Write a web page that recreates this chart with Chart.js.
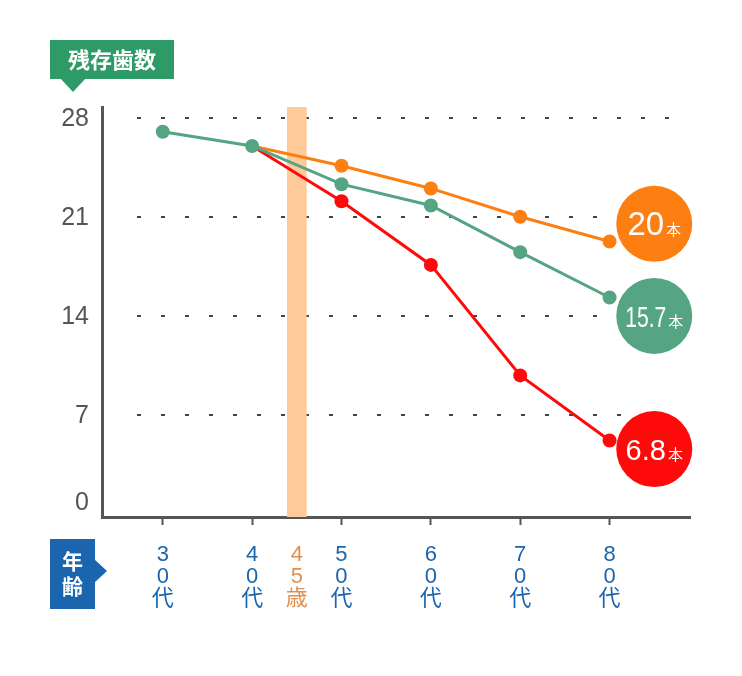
<!DOCTYPE html>
<html>
<head>
<meta charset="utf-8">
<script src="https://cdn.jsdelivr.net/npm/chart.js@4"></script>
<style>
  body { margin: 0; background: #fff; }
  canvas { display: block; }
</style>
</head>
<body>
<canvas id="chart" width="742" height="676"></canvas>
<script>
// 年代ごとの残存歯数
const ages = [30, 40, 50, 60, 70, 80];
const greenTeeth = [27.0, 26.0, 23.3, 21.8, 18.5, 15.3];
const orangeTeeth = [null, 26.0, 24.6, 23.0, 21.0, 19.25];
const redTeeth = [null, 26.0, 22.1, 17.6, 9.8, 5.2];
const markAge = 45;

const xTicks = [30, 40, 45, 50, 60, 70, 80];
const xTickText = ['30代', '40代', '45歳', '50代', '60代', '70代', '80代'];
const yTicks = [0, 7, 14, 21, 28];
const bubbleText = ['20', '15.7', '6.8'];

const GREEN = '#55a482';
const ORANGE = '#fd7f12';
const RED = '#ff0a0a';
const BLUE = '#1b64ae';
const LATIN = "'Liberation Sans', 'Noto Sans CJK JP', sans-serif";
const CJK = "'Noto Sans CJK JP', sans-serif";
const Y_MIN = -0.2, Y_MAX = 28.75;

const toPts = arr => ages.map((a, i) => ({ x: a, y: arr[i] })).filter(p => p.y !== null);

const lineSet = (label, arr, color, order) => ({
  type: 'line',
  label: label,
  data: toPts(arr),
  borderColor: color,
  backgroundColor: color,
  borderWidth: 3,
  pointRadius: ctx => (order > 1 && ctx.dataIndex === 0) ? 0 : 7,
  pointBorderWidth: 0,
  pointHoverRadius: 7,
  order: order
});

const decor = {
  id: 'decor',
  beforeDatasetsDraw(chart) {
    const { ctx, chartArea, scales: { y } } = chart;
    ctx.save();
    ctx.strokeStyle = '#444';
    ctx.lineWidth = 2;
    ctx.setLineDash([4, 20]);
    yTicks.filter(v => v > 0).forEach(v => {
      const py = Math.round(y.getPixelForValue(v));
      ctx.beginPath();
      ctx.moveTo(chartArea.left + 35, py);
      ctx.lineTo(chartArea.right - 18, py);
      ctx.stroke();
    });
    ctx.restore();
  },
  afterDraw(chart) {
    const { ctx, chartArea, scales: { x, y } } = chart;
    ctx.save();
    // y tick labels
    ctx.fillStyle = '#555';
    ctx.font = '25px ' + LATIN;
    ctx.textAlign = 'right';
    ctx.textBaseline = 'middle';
    yTicks.forEach(v => {
      let py = y.getPixelForValue(v);
      py = Math.min(py, chartArea.bottom - 15);
      ctx.fillText(String(v), 89, py + 1);
    });

    // 残存歯数 box
    ctx.fillStyle = '#2e9a68';
    ctx.fillRect(50, 40, 124, 39);
    ctx.beginPath();
    ctx.moveTo(60, 78); ctx.lineTo(86, 78); ctx.lineTo(73, 92); ctx.closePath();
    ctx.fill();
    ctx.fillStyle = '#fff';
    ctx.font = 'bold 22px ' + CJK;
    ctx.textAlign = 'center';
    ctx.fillText('残存歯数', 112, 60);

    // 年齢 box
    ctx.fillStyle = BLUE;
    ctx.fillRect(50, 539, 45, 70);
    ctx.beginPath();
    ctx.moveTo(94, 559); ctx.lineTo(107, 571); ctx.lineTo(94, 583); ctx.closePath();
    ctx.fill();
    ctx.fillStyle = '#fff';
    ctx.font = 'bold 21px ' + CJK;
    ctx.fillText('年', 72.5, 561);
    ctx.fillText('齢', 72.5, 586);

    // end bubbles
    const cx = x.getPixelForValue(85);
    const bubbles = [
      { v: 20.5, c: ORANGE, size: 33 },
      { v: 14.0, c: GREEN, size: 30, maxW: 41 },
      { v: 4.6, c: RED, size: 29 }
    ];
    bubbles.forEach((b, i) => {
      const cy = y.getPixelForValue(b.v);
      ctx.fillStyle = b.c;
      ctx.beginPath();
      ctx.arc(cx, cy, 38, 0, Math.PI * 2);
      ctx.fill();
      ctx.fillStyle = '#fff';
      ctx.textAlign = 'left';
      ctx.textBaseline = 'alphabetic';
      ctx.font = b.size + 'px ' + LATIN;
      let w = ctx.measureText(bubbleText[i]).width;
      if (b.maxW) w = Math.min(w, b.maxW);
      ctx.font = '15px ' + CJK;
      const wu = ctx.measureText('本').width;
      const left = cx - (w + 2 + wu) / 2;
      ctx.font = b.size + 'px ' + LATIN;
      if (b.maxW) ctx.fillText(bubbleText[i], left, cy + 11, b.maxW);
      else ctx.fillText(bubbleText[i], left, cy + 11);
      ctx.font = '15px ' + CJK;
      ctx.fillText('本', left + w + 2, cy + 11);
    });
    ctx.restore();
  }
};

const chart = new Chart(document.querySelector('#chart').getContext('2d'), {
  data: {
    datasets: [
      lineSet('green', greenTeeth, GREEN, 1),
      lineSet('orange', orangeTeeth, ORANGE, 2),
      lineSet('red', redTeeth, RED, 3),
      {
        type: 'bar',
        label: '45歳',
        data: [{ x: markAge, y: Y_MAX }],
        backgroundColor: '#ffca99',
        barThickness: 19,
        base: Y_MIN,
        order: 10
      }
    ]
  },
  options: {
    responsive: false,
    animation: false,
    events: [],
    layout: { padding: { left: 0, top: 107, right: 52, bottom: 0 } },
    plugins: {
      legend: { display: false },
      tooltip: { enabled: false }
    },
    scales: {
      x: {
        type: 'linear',
        min: 23.2,
        max: 89,
        offset: false,
        afterFit: s => { s.height = 676 - 517; },
        afterBuildTicks: s => { s.ticks = xTicks.map(v => ({ value: v })); },
        grid: {
          offset: false,
          drawOnChartArea: false,
          drawTicks: true,
          tickLength: 8,
          tickWidth: 2,
          tickColor: c => (c.tick && c.tick.value === markAge) ? 'rgba(0,0,0,0)' : '#555'
        },
        border: { display: true, color: '#555', width: 3 },
        ticks: {
          autoSkip: false,
          maxRotation: 0,
          padding: 19,
          font: { size: 22, lineHeight: '22px', family: LATIN },
          color: c => (c.tick && c.tick.value === markAge) ? '#df8f4f' : BLUE,
          callback: v => xTickText[xTicks.indexOf(v)].split('')
        }
      },
      y: {
        min: Y_MIN,
        max: Y_MAX,
        afterFit: s => { s.width = 102; },
        afterBuildTicks: s => { s.ticks = yTicks.map(v => ({ value: v })); },
        grid: { display: false },
        border: { display: true, color: '#555', width: 3 },
        ticks: { display: false }
      }
    }
  },
  plugins: [decor]
});
</script>
</body>
</html>
